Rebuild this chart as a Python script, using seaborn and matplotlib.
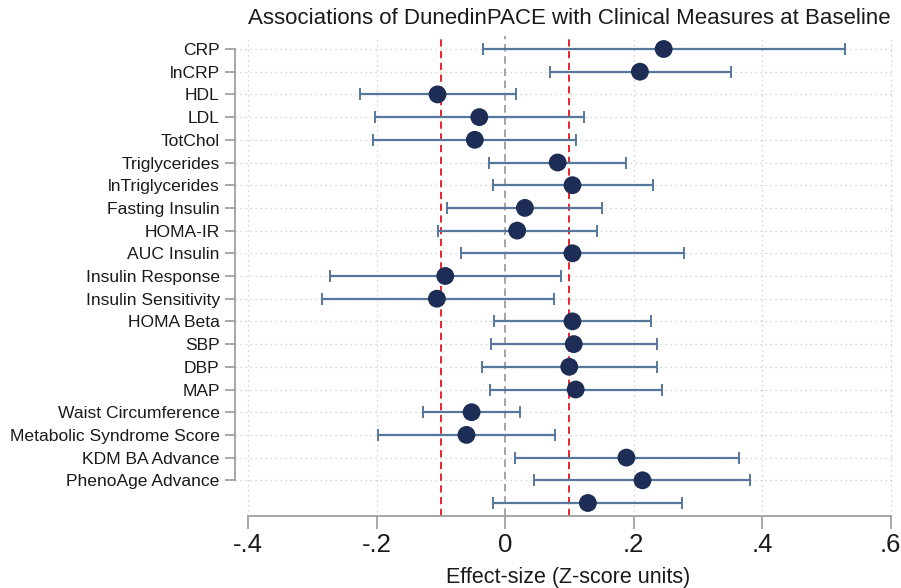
import numpy as np
import pandas as pd
import matplotlib
matplotlib.use("Agg")
import matplotlib.pyplot as plt
import seaborn as sns

# Estimates and 95% CIs (last row has no label)
labels = ['CRP', 'lnCRP', 'HDL', 'LDL', 'TotChol', 'Triglycerides', 'lnTriglycerides',
          'Fasting Insulin', 'HOMA-IR', 'AUC Insulin', 'Insulin Response',
          'Insulin Sensitivity', 'HOMA Beta', 'SBP', 'DBP', 'MAP',
          'Waist Circumference', 'Metabolic Syndrome Score', 'KDM BA Advance',
          'PhenoAge Advance', '']
estimate = [0.247, 0.210, -0.105, -0.040, -0.047, 0.082, 0.105, 0.031, 0.019, 0.105,
            -0.093, -0.106, 0.105, 0.107, 0.100, 0.110, -0.052, -0.060, 0.189, 0.214, 0.129]
ci_low = [-0.034, 0.070, -0.226, -0.203, -0.206, -0.025, -0.019, -0.091, -0.105, -0.068,
          -0.273, -0.285, -0.017, -0.022, -0.036, -0.024, -0.127, -0.197, 0.015, 0.045, -0.018]
ci_high = [0.529, 0.352, 0.017, 0.123, 0.110, 0.188, 0.230, 0.151, 0.143, 0.278,
           0.087, 0.076, 0.227, 0.236, 0.236, 0.244, 0.023, 0.078, 0.364, 0.382, 0.275]
x_ticks = [-0.4, -0.2, 0, 0.2, 0.4, 0.6]
x_ticklabels = ['-.4', '-.2', '0', '.2', '.4', '.6']

df = pd.DataFrame({'label': labels, 'est': estimate, 'lo': ci_low, 'hi': ci_high})
df['row'] = np.arange(len(df))

sns.set_style('white')
plt.rcParams['font.family'] = ['Liberation Sans', 'DejaVu Sans']

fig = plt.figure(figsize=(9.01, 5.88), dpi=100)
ax = fig.add_axes([235 / 901, 1 - 516 / 588, (895 - 235) / 901, (516 - 36) / 588])

grid_c = '#c8c8c8'
n_lab = len(labels) - 1

# Grid lines (Stata-like dotted)
for r in range(n_lab):
    ax.axhline(r, color=grid_c, lw=0.9, ls=(0, (1, 3)), zorder=0)
for xv in [-0.4, -0.2, 0.2, 0.4, 0.6]:
    ax.axvline(xv, color=grid_c, lw=0.9, ls=(0, (1, 3)), zorder=0)

# Reference lines
ax.axvline(0, color='#8c8c8c', lw=1.1, ls=(0, (5, 3)), zorder=1)
for xv in [-0.1, 0.1]:
    ax.axvline(xv, color='#e8141c', lw=1.3, ls=(0, (4, 2.5)), zorder=1)

# Confidence intervals
ax.errorbar(df['est'], df['row'],
            xerr=[df['est'] - df['lo'], df['hi'] - df['est']],
            fmt='none', ecolor='#56779c', elinewidth=1.6, capsize=4, capthick=1.4, zorder=2)

# Point estimates
sns.scatterplot(data=df, x='est', y='row', ax=ax, s=165, color='#1e2d55',
                edgecolor='none', zorder=3, legend=False)

ax.set_xlim((235 - 505) / 642.5, (895 - 505) / 642.5)
ax.set_ylim((516 - 49) / 22.7, (36 - 49) / 22.7)

ax.set_yticks(range(n_lab))
ax.set_yticklabels(labels[:n_lab], fontsize=12.6, color='#1a1a1a')
ax.set_xticks(x_ticks)
ax.set_xticklabels(x_ticklabels, fontsize=18.5, color='#1a1a1a')
ax.set_xlabel('')
ax.set_ylabel('')

for s in ['top', 'right']:
    ax.spines[s].set_visible(False)
ax.spines['left'].set_bounds(0, n_lab - 1)
ax.spines['bottom'].set_bounds(-0.4, 0.6)
for s in ['left', 'bottom']:
    ax.spines[s].set_color('#a0a0a0')
    ax.spines[s].set_linewidth(1.3)
ax.tick_params(axis='y', length=7, width=1.3, color='#a0a0a0', pad=4, left=True)
ax.tick_params(axis='x', length=9, width=1.3, color='#a0a0a0', pad=3, bottom=True)

fig.text(569 / 901, 1 - 18 / 588, 'Associations of DunedinPACE with Clinical Measures at Baseline',
         ha='center', va='center', fontsize=16, color='#1a1a1a')
fig.text(568 / 901, 1 - 577 / 588, 'Effect-size (Z-score units)',
         ha='center', va='center', fontsize=15.5, color='#1a1a1a')

plt.savefig('out.png', dpi=100)
